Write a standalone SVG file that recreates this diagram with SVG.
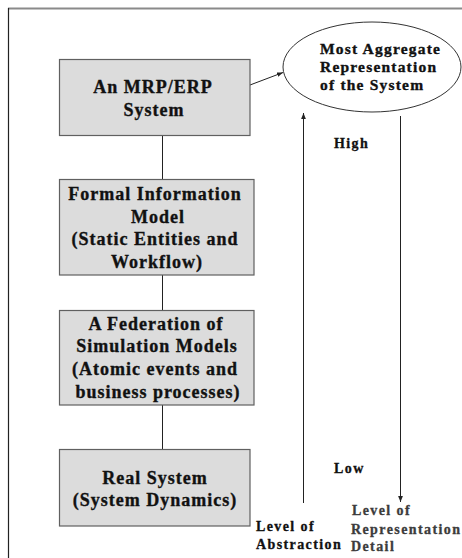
<svg xmlns="http://www.w3.org/2000/svg" width="462" height="558" viewBox="0 0 462 558">
<style>
.box{fill:#dcdcdc;stroke:#606060;stroke-width:1.2}
.bt{font-family:"Liberation Serif","Times New Roman",serif;font-weight:bold;font-size:18px;letter-spacing:1px;fill:#111;stroke:#111;stroke-width:0.35;text-anchor:middle}
.et{font-family:"Liberation Serif","Times New Roman",serif;font-weight:bold;font-size:15.5px;letter-spacing:1.2px;fill:#111;stroke:#111;stroke-width:0.35}
.lt{font-family:"Liberation Serif","Times New Roman",serif;font-weight:bold;font-size:14px;letter-spacing:1.4px;fill:#111;stroke:#111;stroke-width:0.3}
.gt{fill:#3c3c3c;stroke:#3c3c3c}
.ln{stroke:#222;stroke-width:1;fill:none}
</style>
<defs>
<marker id="ah" viewBox="0 0 10 10" refX="10" refY="5" markerWidth="6" markerHeight="6" orient="auto" markerUnits="userSpaceOnUse">
<path d="M0,1 L10,5 L0,9 z" fill="#222"/>
</marker>
</defs>
<rect width="462" height="558" fill="#fff"/>
<g id="frame">
<line x1="8" y1="8.5" x2="462" y2="8.5" stroke="#8a8a8a" stroke-width="2"/>
<line x1="8.5" y1="8" x2="8.5" y2="558" stroke="#222" stroke-width="1.2"/>
</g>
<g id="connectors">
<line class="ln" x1="162.5" y1="135" x2="162.5" y2="179"/>
<line class="ln" x1="162.5" y1="275" x2="162.5" y2="310"/>
<line class="ln" x1="162.5" y1="405" x2="162.5" y2="449"/>
<line class="ln" x1="250" y1="85" x2="283" y2="72.5" marker-end="url(#ah)"/>
<line class="ln" x1="303.5" y1="503" x2="303.5" y2="113" marker-end="url(#ah)"/>
<line class="ln" x1="400.5" y1="116" x2="400.5" y2="502" marker-end="url(#ah)"/>
</g>
<g id="mrp">
<rect class="box" x="59.5" y="59.5" width="190.5" height="76"/>
<text class="bt" x="153" y="93">An MRP/ERP</text>
<text class="bt" x="154" y="115.5">System</text>
</g>
<g id="formal">
<rect class="box" x="59.5" y="179.5" width="194.5" height="95.5"/>
<text class="bt" x="155" y="200">Formal Information</text>
<text class="bt" x="158" y="222.5">Model</text>
<text class="bt" x="155" y="245">(Static Entities and</text>
<text class="bt" x="157" y="267.5">Workflow)</text>
</g>
<g id="federation">
<rect class="box" x="59.5" y="310.5" width="194.5" height="94.5"/>
<text class="bt" x="156" y="329.5">A Federation of</text>
<text class="bt" x="157" y="352">Simulation Models</text>
<text class="bt" x="155" y="375">(Atomic events and</text>
<text class="bt" x="158" y="397.5">business processes)</text>
</g>
<g id="real">
<rect class="box" x="59.5" y="449.5" width="190.5" height="76.5"/>
<text class="bt" x="155" y="483.5">Real System</text>
<text class="bt" x="155" y="506">(System Dynamics)</text>
</g>
<g id="aggregate">
<ellipse cx="372" cy="67" rx="89" ry="45" fill="#fff" stroke="#333" stroke-width="1"/>
<text class="et" x="320" y="53.5">Most Aggregate</text>
<text class="et" x="320" y="72">Representation</text>
<text class="et" x="320" y="90">of the System</text>
</g>
<g id="labels">
<text class="lt" x="334" y="148">High</text>
<text class="lt" x="334" y="473">Low</text>
<text class="lt" x="256" y="531">Level of</text>
<text class="lt" x="256" y="548.5">Abstraction</text>
<text class="lt gt" x="352" y="515">Level of</text>
<text class="lt gt" x="351" y="533.5">Representation</text>
<text class="lt gt" x="351" y="551">Detail</text>
</g>
</svg>
